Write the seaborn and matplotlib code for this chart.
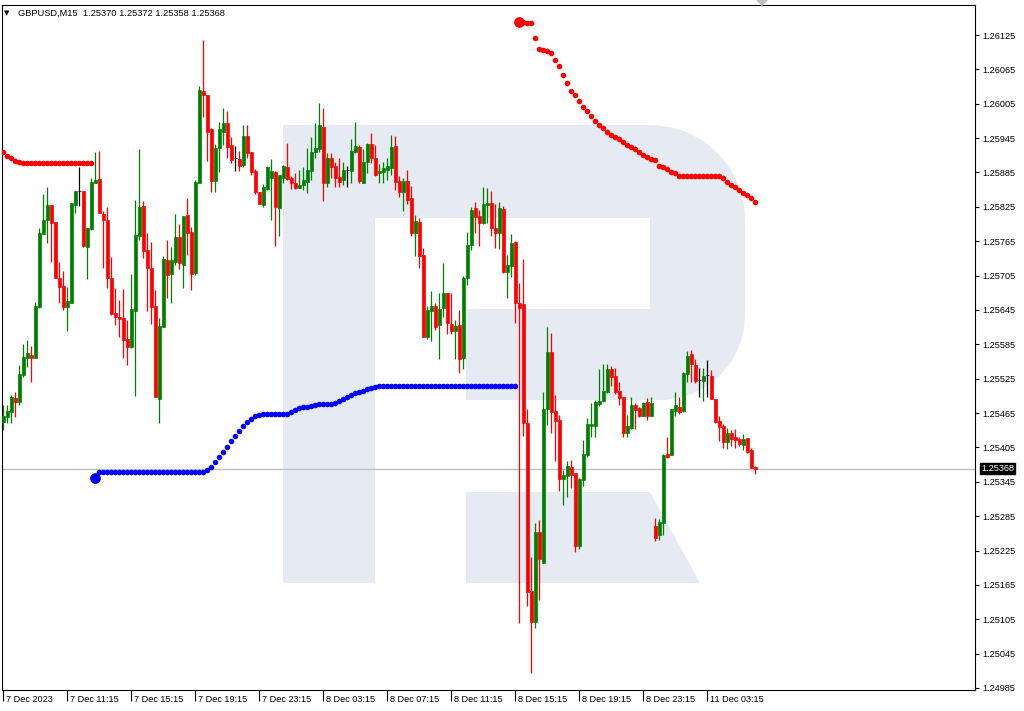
import numpy as np
import pandas as pd
import matplotlib
matplotlib.use("Agg")
import matplotlib.pyplot as plt
import matplotlib.transforms as mtransforms
from matplotlib.patches import Polygon
import seaborn as sns

# ---- data (GBPUSD M15) ----
symbol = "GBPUSD,M15"
last_ohlc = [1.25370, 1.25372, 1.25358, 1.25368]

opens = [1.25449, 1.25458, 1.25467, 1.25491, 1.25484, 1.25531, 1.25561, 1.25566, 1.25561, 1.25650,
         1.25777, 1.25802, 1.25828, 1.25798, 1.25701, 1.25687, 1.25650, 1.25657, 1.25828, 1.25852,
         1.25852, 1.25755, 1.25786, 1.25866, 1.25873, 1.25812, 1.25802, 1.25701, 1.25639, 1.25632,
         1.25631, 1.25594, 1.25580, 1.25643, 1.25774, 1.25826, 1.25749, 1.25718, 1.25652, 1.25489,
         1.25615, 1.25732, 1.25708, 1.25728, 1.25772, 1.25723, 1.25811, 1.25781, 1.25709, 1.25866,
         1.26027, 1.26020, 1.25961, 1.25870, 1.25928, 1.25955, 1.25971, 1.25933, 1.25910, 1.25908,
         1.25898, 1.25949, 1.25921, 1.25887, 1.25851, 1.25828, 1.25856, 1.25875, 1.25886, 1.25823,
         1.25875, 1.25894, 1.25875, 1.25866, 1.25858, 1.25863, 1.25868, 1.25887, 1.25921, 1.25926,
         1.25964, 1.25866, 1.25910, 1.25896, 1.25877, 1.25872, 1.25889, 1.25887, 1.25921, 1.25929,
         1.25866, 1.25903, 1.25935, 1.25910, 1.25884, 1.25886, 1.25889, 1.25893, 1.25931, 1.25870,
         1.25851, 1.25870, 1.25840, 1.25779, 1.25798, 1.25741, 1.25598, 1.25643, 1.25652, 1.25618,
         1.25648, 1.25674, 1.25620, 1.25608, 1.25618, 1.25561, 1.25701, 1.25758, 1.25823, 1.25809,
         1.25797, 1.25828, 1.25832, 1.25788, 1.25779, 1.25821, 1.25711, 1.25722, 1.25763, 1.25657,
         1.25655, 1.25447, 1.25154, 1.25100, 1.25257, 1.25203, 1.25472, 1.25571, 1.25468, 1.25453,
         1.25350, 1.25355, 1.25371, 1.25360, 1.25233, 1.25348, 1.25392, 1.25442, 1.25442, 1.25481,
         1.25486, 1.25502, 1.25542, 1.25530, 1.25503, 1.25493, 1.25430, 1.25439, 1.25479, 1.25474,
         1.25460, 1.25484, 1.25460, 1.25268, 1.25252, 1.25273, 1.25393, 1.25392, 1.25468, 1.25475,
         1.25468, 1.25533, 1.25568, 1.25549, 1.25522, 1.25521, 1.25531, 1.25530, 1.25489, 1.25451,
         1.25442, 1.25414, 1.25430, 1.25423, 1.25419, 1.25409, 1.25421, 1.25400, 1.25370]

highs = [1.25479, 1.25479, 1.25496, 1.25502, 1.25549, 1.25585, 1.25592, 1.25582, 1.25659, 1.25788,
         1.25847, 1.25859, 1.25828, 1.25798, 1.25728, 1.25713, 1.25685, 1.25832, 1.25852, 1.25894,
         1.25852, 1.25788, 1.25875, 1.25921, 1.25922, 1.25818, 1.25825, 1.25737, 1.25683, 1.25662,
         1.25681, 1.25627, 1.25708, 1.25837, 1.25926, 1.25835, 1.25779, 1.25763, 1.25680, 1.25631,
         1.25739, 1.25767, 1.25755, 1.25812, 1.25795, 1.25809, 1.25840, 1.25790, 1.25872, 1.26036,
         1.26116, 1.26020, 1.25962, 1.25935, 1.25973, 1.25997, 1.25992, 1.25947, 1.25931, 1.25922,
         1.25968, 1.25968, 1.25921, 1.25891, 1.25851, 1.25865, 1.25896, 1.25908, 1.25887, 1.25880,
         1.25898, 1.25936, 1.25879, 1.25884, 1.25889, 1.25894, 1.25928, 1.25947, 1.25971, 1.26006,
         1.25997, 1.25919, 1.25919, 1.25903, 1.25910, 1.25903, 1.25896, 1.25943, 1.25973, 1.25933,
         1.25926, 1.25936, 1.25954, 1.25933, 1.25900, 1.25903, 1.25910, 1.25950, 1.25949, 1.25879,
         1.25875, 1.25889, 1.25861, 1.25811, 1.25805, 1.25753, 1.25652, 1.25678, 1.25657, 1.25674,
         1.25727, 1.25674, 1.25674, 1.25627, 1.25645, 1.25704, 1.25781, 1.25825, 1.25833, 1.25819,
         1.25859, 1.25858, 1.25852, 1.25830, 1.25833, 1.25826, 1.25741, 1.25777, 1.25765, 1.25692,
         1.25734, 1.25472, 1.25213, 1.25273, 1.25278, 1.25502, 1.25615, 1.25605, 1.25496, 1.25461,
         1.25365, 1.25381, 1.25383, 1.25360, 1.25351, 1.25418, 1.25456, 1.25482, 1.25488, 1.25542,
         1.25550, 1.25550, 1.25547, 1.25543, 1.25519, 1.25493, 1.25461, 1.25493, 1.25482, 1.25475,
         1.25484, 1.25491, 1.25493, 1.25282, 1.25280, 1.25393, 1.25423, 1.25472, 1.25502, 1.25493,
         1.25536, 1.25573, 1.25575, 1.25559, 1.25543, 1.25543, 1.25557, 1.25540, 1.25489, 1.25460,
         1.25446, 1.25439, 1.25435, 1.25437, 1.25423, 1.25428, 1.25421, 1.25404, 1.25372]

lows = [1.25435, 1.25447, 1.25447, 1.25458, 1.25479, 1.25528, 1.25545, 1.25519, 1.25561, 1.25648,
        1.25777, 1.25762, 1.25728, 1.25701, 1.25657, 1.25645, 1.25608, 1.25657, 1.25814, 1.25826,
        1.25755, 1.25699, 1.25784, 1.25866, 1.25814, 1.25718, 1.25683, 1.25636, 1.25618, 1.25598,
        1.25561, 1.25549, 1.25578, 1.25495, 1.25767, 1.25735, 1.25643, 1.25620, 1.25493, 1.25447,
        1.25615, 1.25666, 1.25657, 1.25723, 1.25716, 1.25683, 1.25741, 1.25680, 1.25706, 1.25866,
        1.25982, 1.25905, 1.25851, 1.25851, 1.25886, 1.25933, 1.25910, 1.25901, 1.25887, 1.25887,
        1.25894, 1.25910, 1.25880, 1.25847, 1.25830, 1.25825, 1.25854, 1.25802, 1.25756, 1.25774,
        1.25866, 1.25872, 1.25856, 1.25856, 1.25858, 1.25854, 1.25849, 1.25872, 1.25910, 1.25921,
        1.25835, 1.25859, 1.25875, 1.25859, 1.25859, 1.25863, 1.25859, 1.25866, 1.25919, 1.25866,
        1.25866, 1.25884, 1.25901, 1.25879, 1.25866, 1.25866, 1.25872, 1.25880, 1.25854, 1.25842,
        1.25818, 1.25830, 1.25774, 1.25739, 1.25718, 1.25598, 1.25594, 1.25591, 1.25610, 1.25559,
        1.25632, 1.25603, 1.25603, 1.25559, 1.25535, 1.25542, 1.25688, 1.25749, 1.25779, 1.25756,
        1.25795, 1.25797, 1.25774, 1.25753, 1.25751, 1.25709, 1.25666, 1.25702, 1.25622, 1.25098,
        1.25425, 1.25128, 1.25011, 1.25089, 1.25138, 1.25203, 1.25444, 1.25430, 1.25381, 1.25329,
        1.25304, 1.25318, 1.25334, 1.25222, 1.25227, 1.25337, 1.25388, 1.25423, 1.25423, 1.25477,
        1.25484, 1.25500, 1.25512, 1.25498, 1.25479, 1.25423, 1.25423, 1.25437, 1.25437, 1.25458,
        1.25460, 1.25453, 1.25460, 1.25241, 1.25243, 1.25252, 1.25386, 1.25392, 1.25460, 1.25463,
        1.25467, 1.25519, 1.25519, 1.25517, 1.25493, 1.25486, 1.25493, 1.25489, 1.25447, 1.25416,
        1.25404, 1.25402, 1.25407, 1.25404, 1.25407, 1.25400, 1.25395, 1.25369, 1.25358]

closes = [1.25460, 1.25468, 1.25493, 1.25484, 1.25533, 1.25563, 1.25570, 1.25561, 1.25652, 1.25779,
          1.25802, 1.25828, 1.25797, 1.25701, 1.25685, 1.25650, 1.25660, 1.25832, 1.25852, 1.25852,
          1.25756, 1.25788, 1.25868, 1.25872, 1.25814, 1.25802, 1.25701, 1.25638, 1.25632, 1.25629,
          1.25592, 1.25580, 1.25646, 1.25776, 1.25825, 1.25748, 1.25718, 1.25650, 1.25493, 1.25617,
          1.25734, 1.25706, 1.25732, 1.25772, 1.25727, 1.25809, 1.25779, 1.25708, 1.25868, 1.26029,
          1.26020, 1.25955, 1.25870, 1.25928, 1.25961, 1.25971, 1.25929, 1.25907, 1.25910, 1.25896,
          1.25949, 1.25919, 1.25886, 1.25851, 1.25830, 1.25859, 1.25894, 1.25887, 1.25825, 1.25880,
          1.25896, 1.25873, 1.25866, 1.25858, 1.25863, 1.25872, 1.25889, 1.25921, 1.25928, 1.25968,
          1.25866, 1.25910, 1.25894, 1.25875, 1.25868, 1.25889, 1.25889, 1.25922, 1.25931, 1.25870,
          1.25903, 1.25935, 1.25910, 1.25880, 1.25887, 1.25893, 1.25896, 1.25929, 1.25868, 1.25851,
          1.25870, 1.25837, 1.25779, 1.25800, 1.25739, 1.25598, 1.25645, 1.25652, 1.25615, 1.25646,
          1.25674, 1.25622, 1.25608, 1.25617, 1.25559, 1.25701, 1.25758, 1.25819, 1.25807, 1.25797,
          1.25830, 1.25832, 1.25788, 1.25779, 1.25823, 1.25711, 1.25723, 1.25762, 1.25657, 1.25648,
          1.25447, 1.25152, 1.25100, 1.25257, 1.25210, 1.25472, 1.25571, 1.25467, 1.25451, 1.25350,
          1.25357, 1.25372, 1.25357, 1.25233, 1.25350, 1.25393, 1.25446, 1.25446, 1.25484, 1.25486,
          1.25503, 1.25542, 1.25528, 1.25502, 1.25491, 1.25430, 1.25442, 1.25479, 1.25470, 1.25460,
          1.25482, 1.25460, 1.25482, 1.25247, 1.25275, 1.25392, 1.25388, 1.25472, 1.25479, 1.25467,
          1.25535, 1.25564, 1.25550, 1.25521, 1.25522, 1.25530, 1.25531, 1.25489, 1.25449, 1.25440,
          1.25414, 1.25430, 1.25419, 1.25418, 1.25411, 1.25419, 1.25397, 1.25369, 1.25368]

# indicator dots (resistance red, support blue)
res_left_start = 0
res_left = [1.25921, 1.25914, 1.25910, 1.25905, 1.25903] + [1.25901] * 18

support_start = 23
support = ([1.25351] + [1.25362] * 27 +
           [1.25365, 1.25371, 1.25379, 1.25388, 1.25397, 1.25406, 1.25416, 1.25425,
            1.25433, 1.25442, 1.25449, 1.25454, 1.25460, 1.25461] +
           [1.25463] * 7 +
           [1.25467, 1.25470, 1.25474, 1.25475, 1.25475, 1.25477, 1.25479] +
           [1.25481] * 4 +
           [1.25482, 1.25486, 1.25489, 1.25493, 1.25496, 1.25500, 1.25502, 1.25503,
            1.25507, 1.25509, 1.25510] +
           [1.25512] * 35)

res_right_start = 129
res_right = ([1.26148, 1.26148, 1.26146, 1.26146,
              1.26120, 1.26100, 1.26099, 1.26097, 1.26093, 1.26081, 1.26071, 1.26055, 1.26041, 1.26027,
              1.26020, 1.26010, 1.25999, 1.25992, 1.25983, 1.25975, 1.25968, 1.25962, 1.25955, 1.25950,
              1.25947, 1.25943, 1.25938, 1.25933, 1.25929, 1.25926, 1.25921, 1.25915, 1.25912, 1.25908,
              1.25907, 1.25896, 1.25894, 1.25891, 1.25886, 1.25884] +
             [1.25879] * 11 +
             [1.25875, 1.25868, 1.25863, 1.25859, 1.25854, 1.25849, 1.25846, 1.25840, 1.25833])

y_ticks = [1.24985, 1.25045, 1.25105, 1.25165, 1.25225, 1.25285, 1.25345, 1.25405, 1.25465, 1.25525,
           1.25585, 1.25645, 1.25705, 1.25765, 1.25825, 1.25885, 1.25945, 1.26005, 1.26065, 1.26125]

# bar times: Friday session then Monday after the weekend gap
t_fri = pd.date_range("2023-12-07 07:15", "2023-12-08 23:45", freq="15min")
t_mon = pd.date_range("2023-12-11 00:00", periods=len(opens) - len(t_fri), freq="15min")
times = t_fri.append(t_mon)

df = pd.DataFrame({"time": times, "open": opens, "high": highs, "low": lows, "close": closes})
df["x"] = np.arange(len(df))
df["color"] = np.where(df.close > df.open, "#008000",
                       np.where(df.close < df.open, "#ff0000", "#000000"))

sns.set_theme(style="white")
plt.rcParams["font.family"] = ["Liberation Sans", "DejaVu Sans"]

W, H = 1024, 711
fig = plt.figure(figsize=(W / 100, H / 100), dpi=100)
ax = fig.add_axes([2 / W, 21 / H, 973 / W, 685 / H])
ax.set_facecolor("white")


def fpx(pts):
    # pixel (from top-left) -> figure fraction
    return [(x / W, 1 - y / H) for x, y in pts]


def arc(cx, cy, r, a0, a1, n=24):
    t = np.radians(np.linspace(a0, a1, n))
    return list(zip(cx + r * np.cos(t), cy - r * np.sin(t)))


# watermark logo behind the candles
wm_col = "#e5eaf3"
r_shape = ([(283, 125)] + arc(650, 220, 95, 90, 0) + arc(660, 315, 85, 0, -90) +
           [(466, 400), (466, 309), (650, 309), (650, 218), (375, 218), (375, 583), (283, 583)])
leg = [(466, 492), (650, 492), (700, 583), (466, 583)]
for shp in (r_shape, leg):
    p = Polygon(fpx(shp), closed=True, facecolor=wm_col, edgecolor="none",
                transform=fig.transFigure, zorder=0)
    ax.add_patch(p)

# current price line
ax.axhline(last_ohlc[3], color="#c0c0c0", lw=1.0, zorder=1)

# candles
ax.vlines(df.x, df.low, df.high, colors=df.color, linewidth=0.9, zorder=2)
ax.bar(df.x, (df.close - df.open).abs(), bottom=np.minimum(df.open, df.close),
       width=0.6, color=df.color, edgecolor=df.color, linewidth=0.5, zorder=3)

# indicator dots
rl = pd.DataFrame({"x": np.arange(len(res_left)) + res_left_start, "y": res_left})
sp = pd.DataFrame({"x": np.arange(len(support)) + support_start, "y": support})
rr = pd.DataFrame({"x": np.arange(len(res_right)) + res_right_start, "y": res_right})
sns.scatterplot(data=rl, x="x", y="y", color="#ff0000", s=16, linewidth=0, ax=ax, zorder=4, legend=False)
sns.scatterplot(data=sp.iloc[1:], x="x", y="y", color="#0000ff", s=16, linewidth=0, ax=ax, zorder=4, legend=False)
sns.scatterplot(data=rr.iloc[1:], x="x", y="y", color="#ff0000", s=16, linewidth=0, ax=ax, zorder=4, legend=False)
sns.scatterplot(data=sp.iloc[:1], x="x", y="y", color="#0000ff", s=60, linewidth=0, ax=ax, zorder=5, legend=False)
sns.scatterplot(data=rr.iloc[:1], x="x", y="y", color="#ff0000", s=60, linewidth=0, ax=ax, zorder=5, legend=False)

ax.set_xlim(-0.33, 242.9)
ax.set_ylim(1.249815, 1.261774)
ax.set_xlabel("")
ax.set_ylabel("")

for s in ax.spines.values():
    s.set_visible(True)
    s.set_color("black")
    s.set_linewidth(0.8)

# price axis on the right
ax.yaxis.tick_right()
ax.set_yticks(y_ticks)
ax.set_yticklabels([f"{v:.5f}" for v in y_ticks])
ax.tick_params(axis="y", right=True, length=3, width=0.8, pad=2.5, labelsize=6.6,
               colors="black", direction="out")

# time axis: tick every 16 bars, label left-aligned next to the tick
tick_idx = list(range(0, len(df), 16))
tick_lab = []
for i in tick_idx:
    t = times[i]
    tick_lab.append(f"{t.day} {t:%b %Y}" if i == 0 else f"{t.day} {t:%b %H:%M}")
ax.set_xticks(tick_idx)
ax.set_xticklabels([])
ax.tick_params(axis="x", bottom=True, length=8, width=0.8, direction="out", colors="black")
lab_tr = (mtransforms.blended_transform_factory(ax.transData, ax.transAxes) +
          mtransforms.ScaledTranslation(3 / 100, -9 / 100, fig.dpi_scale_trans))
for i, lab in zip(tick_idx, tick_lab):
    ax.text(i, 0, lab, transform=lab_tr, ha="left", va="center", fontsize=6.6, color="black")

# last price tag
tag_tr = (mtransforms.blended_transform_factory(ax.transAxes, ax.transData) +
          mtransforms.ScaledTranslation(6 / 100, 0, fig.dpi_scale_trans))
ax.text(1, last_ohlc[3], f"{last_ohlc[3]:.5f}", transform=tag_tr, ha="left", va="center",
        fontsize=6.6, color="white", clip_on=False,
        bbox=dict(boxstyle="square,pad=0.15", facecolor="black", edgecolor="black"))

# header
fig.text(7 / W, 1 - 13 / H, "\u25BC", fontsize=5, ha="center", va="center",
         family=["DejaVu Sans"], color="black")
fig.text(18 / W, 1 - 13 / H,
         f"{symbol}  " + " ".join(f"{v:.5f}" for v in last_ohlc),
         fontsize=6.7, ha="left", va="center", color="black")

# chart shift marker
fig.add_artist(Polygon(fpx([(756, 0), (768, 0), (762, 6)]), closed=True,
                       facecolor="#c0c0c0", edgecolor="none", transform=fig.transFigure))

fig.savefig("out.png", dpi=100, facecolor="white")
